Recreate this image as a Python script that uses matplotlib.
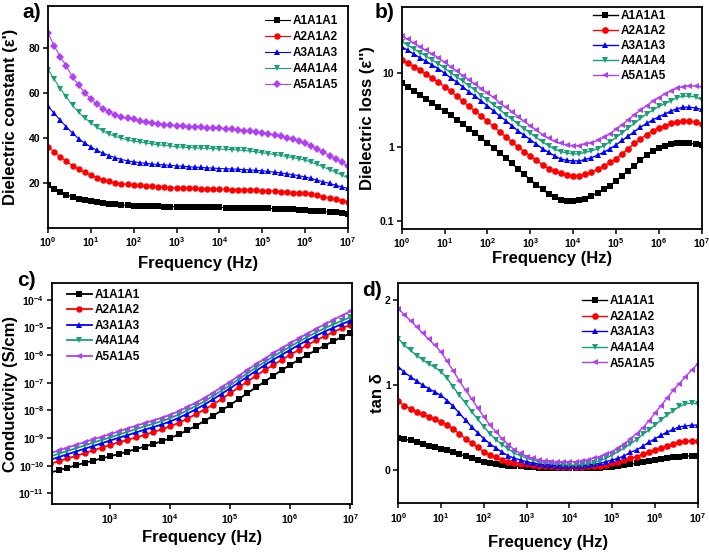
import matplotlib
matplotlib.use("Agg")
import matplotlib.pyplot as plt
import numpy as np
from matplotlib.ticker import FuncFormatter, FixedLocator, NullLocator

plt.rcParams['font.family'] = ['Liberation Sans', 'DejaVu Sans']
plt.rcParams['font.weight'] = 'bold'
plt.rcParams['axes.labelweight'] = 'bold'
plt.rcParams['mathtext.fontset'] = 'custom'
plt.rcParams['mathtext.bf'] = 'Liberation Sans:bold'
plt.rcParams['mathtext.rm'] = 'Liberation Sans:bold'

# measurement grid: 7 points per decade, 1 Hz .. 10 MHz
mant = [1.0, 1.39, 1.93, 2.68, 3.73, 5.18, 7.2]
freq = [m * 10 ** d for d in range(7) for m in mant] + [1e7]
freq_c = freq[14:]  # conductivity plotted from 100 Hz

labels = ["A1A1A1", "A2A1A2", "A3A1A3", "A4A1A4", "A5A1A5"]
colors = ["#000000", "#FF0000", "#0000FF", "#17A077", "#B040F0"]

# a) dielectric constant
eps1_A1 = [19.3, 17.7, 16.2, 15.0, 14.0, 13.2, 12.7, 12.3,
           11.8, 11.4, 11.0, 10.7, 10.5, 10.3, 10.1,
           10.0, 9.95, 9.9, 9.85, 9.8, 9.75, 9.7,
           9.65, 9.6, 9.55, 9.5, 9.5, 9.45, 9.4,
           9.35, 9.3, 9.25, 9.2, 9.15, 9.1, 9.0,
           8.95, 8.9, 8.8, 8.7, 8.6, 8.4, 8.2,
           8.0, 7.8, 7.6, 7.4, 7.2, 6.9, 6.7]
eps1_A2 = [36.2, 34.0, 31.8, 29.8, 27.9, 26.3, 24.9, 23.7,
           22.6, 21.7, 20.9, 20.3, 19.9, 19.6, 19.3,
           19.1, 18.9, 18.7, 18.5, 18.4, 18.2, 18.1,
           18.0, 17.9, 17.8, 17.7, 17.7, 17.6, 17.5,
           17.4, 17.3, 17.2, 17.1, 17.0, 16.9, 16.8,
           16.7, 16.6, 16.4, 16.2, 16.0, 15.8, 15.6,
           15.2, 14.7, 14.2, 13.6, 13.0, 12.4, 11.9]
eps1_A3 = [54.2, 51.0, 48.0, 45.0, 42.3, 39.8, 37.8, 36.2,
           34.6, 33.4, 32.3, 31.4, 30.6, 30.0, 29.6,
           29.2, 28.9, 28.6, 28.4, 28.2, 28.0, 27.8,
           27.6, 27.4, 27.2, 27.1, 26.9, 26.8, 26.6,
           26.5, 26.4, 26.3, 26.1, 26.0, 25.8, 25.6,
           25.3, 25.0, 24.7, 24.3, 23.9, 23.4, 22.9,
           22.2, 21.5, 20.7, 20.0, 19.2, 18.5, 17.8]
eps1_A4 = [70.4, 66.2, 62.0, 58.3, 54.5, 51.5, 49.0, 46.8,
           44.8, 43.2, 41.8, 40.8, 40.0, 39.3, 38.6,
           38.4, 37.9, 37.5, 37.1, 36.8, 36.6, 36.2,
           36.0, 35.9, 35.7, 35.6, 35.5, 35.4, 35.2,
           35.1, 35.0, 34.8, 34.6, 34.3, 34.0, 33.6,
           33.2, 32.8, 32.4, 31.9, 31.4, 30.9, 30.3,
           29.4, 28.4, 27.3, 26.1, 24.9, 23.7, 22.5]
eps1_A5 = [86.5, 81.0, 76.0, 72.0, 67.0, 63.5, 60.0, 57.5,
           55.0, 53.0, 51.5, 50.3, 49.3, 48.8, 48.5,
           47.5, 47.0, 46.6, 46.3, 46.0, 45.8, 45.4,
           45.3, 45.1, 44.9, 44.8, 44.7, 44.6, 44.5,
           44.2, 44.0, 43.7, 43.4, 43.1, 42.8, 42.4,
           42.0, 41.5, 41.0, 40.3, 39.6, 38.8, 37.8,
           36.6, 35.2, 33.8, 32.3, 30.8, 29.3, 27.7]

# b) dielectric loss
eps2_A1 = [7.41, 6.46, 5.75, 5.01, 4.47, 3.98, 3.47, 3.09,
           2.69, 2.34, 2.04, 1.78, 1.55, 1.32, 1.15,
           0.98, 0.83, 0.71, 0.60, 0.51, 0.43, 0.36,
           0.31, 0.27, 0.23, 0.21, 0.195, 0.186, 0.186,
           0.19, 0.20, 0.22, 0.24, 0.27, 0.30, 0.35,
           0.41, 0.48, 0.56, 0.66, 0.78, 0.89, 0.98,
           1.05, 1.10, 1.12, 1.12, 1.12, 1.10, 1.07]
eps2_A2 = [15.1, 13.8, 12.3, 11.0, 9.8, 8.5, 7.6, 6.6,
           5.75, 4.90, 4.17, 3.55, 3.09, 2.63, 2.24,
           1.91, 1.62, 1.38, 1.17, 1.00, 0.87, 0.76,
           0.66, 0.58, 0.51, 0.47, 0.44, 0.42, 0.41,
           0.41, 0.43, 0.46, 0.50, 0.55, 0.62, 0.69,
           0.81, 0.95, 1.12, 1.29, 1.48, 1.66, 1.82,
           1.95, 2.09, 2.19, 2.24, 2.24, 2.19, 2.04]
eps2_A3 = [22.9, 20.4, 18.2, 16.2, 14.5, 12.9, 11.5, 10.0,
           8.7, 7.6, 6.5, 5.6, 4.9, 4.2, 3.63,
           3.09, 2.63, 2.29, 1.95, 1.66, 1.45, 1.26,
           1.10, 0.95, 0.85, 0.76, 0.69, 0.66, 0.65,
           0.65, 0.68, 0.72, 0.78, 0.85, 0.95, 1.07,
           1.23, 1.41, 1.62, 1.86, 2.09, 2.34, 2.57,
           2.82, 3.09, 3.31, 3.47, 3.47, 3.39, 3.24]
eps2_A4 = [26.9, 24.0, 21.4, 19.1, 17.0, 15.1, 13.5, 11.7,
           10.2, 8.9, 7.8, 6.8, 5.9, 5.0, 4.4,
           3.72, 3.24, 2.75, 2.40, 2.04, 1.78, 1.55,
           1.35, 1.17, 1.05, 0.93, 0.87, 0.83, 0.81,
           0.81, 0.85, 0.89, 0.95, 1.05, 1.17, 1.35,
           1.55, 1.82, 2.09, 2.45, 2.82, 3.16, 3.55,
           3.89, 4.27, 4.68, 4.90, 4.90, 4.79, 4.37]
eps2_A5 = [32.4, 28.8, 25.7, 22.9, 20.4, 18.2, 16.2, 14.1,
           12.3, 10.7, 9.3, 8.1, 7.1, 6.2, 5.4,
           4.7, 4.0, 3.47, 3.02, 2.57, 2.24, 1.95,
           1.70, 1.48, 1.32, 1.20, 1.12, 1.07, 1.05,
           1.05, 1.10, 1.15, 1.23, 1.35, 1.51, 1.74,
           2.00, 2.34, 2.75, 3.16, 3.63, 4.17, 4.68,
           5.25, 5.75, 6.31, 6.61, 6.76, 6.76, 6.61]

# c) conductivity, log10(S/cm), from 100 Hz
logsig_A1 = [-10.25, -10.17, -10.08, -9.99, -9.90, -9.82, -9.74, -9.66,
             -9.58, -9.49, -9.40, -9.31, -9.22, -9.12, -9.00,
             -8.87, -8.72, -8.56, -8.38, -8.20, -8.00, -7.80,
             -7.59, -7.38, -7.17, -6.96, -6.75, -6.55, -6.35,
             -6.17, -5.99, -5.82, -5.66, -5.50, -5.35, -5.21]
logsig_A2 = [-9.93, -9.84, -9.74, -9.65, -9.55, -9.45, -9.35, -9.25,
             -9.16, -9.07, -8.98, -8.89, -8.79, -8.69, -8.58,
             -8.45, -8.30, -8.14, -7.97, -7.79, -7.59, -7.38,
             -7.17, -6.96, -6.75, -6.55, -6.36, -6.17, -5.99,
             -5.81, -5.63, -5.47, -5.32, -5.17, -5.03, -4.90]
logsig_A3 = [-9.79, -9.69, -9.59, -9.49, -9.39, -9.29, -9.19, -9.09,
             -8.99, -8.90, -8.80, -8.70, -8.61, -8.51, -8.40,
             -8.27, -8.12, -7.96, -7.79, -7.60, -7.40, -7.20,
             -6.99, -6.78, -6.57, -6.37, -6.17, -5.99, -5.81,
             -5.63, -5.46, -5.30, -5.15, -5.01, -4.88, -4.75]
logsig_A4 = [-9.67, -9.57, -9.47, -9.37, -9.27, -9.17, -9.07, -8.98,
             -8.88, -8.78, -8.68, -8.58, -8.49, -8.39, -8.28,
             -8.15, -8.00, -7.84, -7.67, -7.48, -7.28, -7.08,
             -6.87, -6.66, -6.45, -6.25, -6.05, -5.87, -5.69,
             -5.51, -5.34, -5.18, -5.03, -4.89, -4.76, -4.63]
logsig_A5 = [-9.55, -9.45, -9.35, -9.25, -9.15, -9.05, -8.96, -8.86,
             -8.76, -8.66, -8.56, -8.46, -8.37, -8.27, -8.16,
             -8.03, -7.88, -7.72, -7.55, -7.36, -7.16, -6.96,
             -6.75, -6.54, -6.33, -6.13, -5.93, -5.75, -5.57,
             -5.39, -5.22, -5.05, -4.89, -4.73, -4.57, -4.42]

# d) tan delta
tan_A1 = [0.38, 0.365, 0.35, 0.33, 0.31, 0.29, 0.27, 0.255,
          0.235, 0.21, 0.19, 0.165, 0.14, 0.12, 0.10,
          0.085, 0.075, 0.065, 0.055, 0.05, 0.045, 0.04,
          0.035, 0.03, 0.03, 0.025, 0.025, 0.02, 0.02,
          0.02, 0.02, 0.025, 0.025, 0.03, 0.035, 0.04,
          0.05, 0.06, 0.07, 0.08, 0.095, 0.105, 0.12,
          0.13, 0.14, 0.15, 0.16, 0.165, 0.17, 0.17]
tan_A2 = [0.81, 0.76, 0.72, 0.69, 0.66, 0.63, 0.60, 0.57,
          0.53, 0.48, 0.43, 0.37, 0.32, 0.27, 0.215,
          0.18, 0.15, 0.12, 0.10, 0.085, 0.075, 0.067,
          0.06, 0.055, 0.05, 0.045, 0.04, 0.04, 0.04,
          0.04, 0.04, 0.045, 0.05, 0.055, 0.065, 0.08,
          0.095, 0.115, 0.14, 0.16, 0.185, 0.21, 0.235,
          0.26, 0.29, 0.31, 0.33, 0.34, 0.345, 0.345]
tan_A3 = [1.22, 1.15, 1.10, 1.05, 1.00, 0.96, 0.92, 0.88,
          0.82, 0.75, 0.67, 0.59, 0.51, 0.44, 0.37,
          0.31, 0.26, 0.21, 0.17, 0.14, 0.12, 0.10,
          0.085, 0.075, 0.065, 0.06, 0.055, 0.05, 0.05,
          0.05, 0.055, 0.06, 0.07, 0.08, 0.10, 0.12,
          0.14, 0.17, 0.21, 0.24, 0.28, 0.33, 0.37,
          0.41, 0.45, 0.48, 0.51, 0.52, 0.53, 0.53]
tan_A4 = [1.55, 1.47, 1.41, 1.35, 1.30, 1.25, 1.21, 1.16,
          1.08, 0.98, 0.88, 0.79, 0.69, 0.60, 0.51,
          0.43, 0.36, 0.30, 0.25, 0.20, 0.17, 0.14,
          0.12, 0.10, 0.09, 0.08, 0.07, 0.065, 0.06,
          0.06, 0.065, 0.075, 0.09, 0.11, 0.14, 0.18,
          0.22, 0.26, 0.31, 0.36, 0.42, 0.47, 0.53,
          0.59, 0.65, 0.70, 0.75, 0.78, 0.79, 0.78]
tan_A5 = [1.90, 1.83, 1.76, 1.69, 1.61, 1.54, 1.47, 1.39,
          1.28, 1.17, 1.05, 0.94, 0.84, 0.73, 0.63,
          0.53, 0.45, 0.37, 0.30, 0.24, 0.20, 0.16,
          0.14, 0.12, 0.11, 0.10, 0.10, 0.10, 0.10,
          0.10, 0.11, 0.12, 0.14, 0.16, 0.19, 0.215,
          0.26, 0.31, 0.37, 0.43, 0.50, 0.58, 0.67,
          0.76, 0.85, 0.94, 1.02, 1.10, 1.18, 1.25]

W, H = 709, 553
fig = plt.figure(figsize=(W / 100, H / 100), dpi=100)


def box(l, t, r, b):
    return [l / W, 1 - b / H, (r - l) / W, (b - t) / H]


def pow10(v, pos):
    return r'$\mathbf{10^{%d}}$' % int(round(np.log10(v)))


def style(ax):
    for s in ax.spines.values():
        s.set_linewidth(1.3)
    ax.tick_params(direction='out', length=3.5, width=1.1, labelsize=7.5,
                   top=False, right=False, pad=2)
    ax.tick_params(which='minor', length=0)


def add_legend(ax, x, y, spacing):
    ax.legend(loc='upper left', bbox_to_anchor=(x, y), frameon=False,
              handlelength=2.1, handletextpad=0.25,
              labelspacing=spacing, borderpad=0, borderaxespad=0,
              prop={'weight': 'bold', 'size': 8.5})


def labels_at(ax, xlab, ylab, xy, yx):
    ax.set_xlabel(xlab, fontsize=12)
    ax.set_ylabel(ylab, fontsize=12)
    ax.xaxis.set_label_coords(0.5, xy)
    ax.yaxis.set_label_coords(yx, 0.5)


xt7 = [10.0 ** k for k in range(8)]

# ---- a)
axa = fig.add_axes(box(48, 6, 348, 228))
mk_a = ['s', 'o', '^', 'v', 'D']
for lab, col, m, y in zip(labels, colors, mk_a,
                          [eps1_A1, eps1_A2, eps1_A3, eps1_A4, eps1_A5]):
    axa.plot(freq, y, color=col, marker=m, ms=4.6 if m != 'D' else 4.4,
             lw=0.8, label=lab, markeredgewidth=0)
axa.set_xscale('log')
axa.set_xlim(1, 1e7)
axa.set_ylim(0.3, 98.5)
axa.set_yticks([20, 40, 60, 80])
axa.xaxis.set_major_locator(FixedLocator(xt7))
axa.xaxis.set_minor_locator(NullLocator())
axa.xaxis.set_major_formatter(FuncFormatter(pow10))
labels_at(axa, 'Frequency (Hz)', "Dielectric constant (\u03b5')", -0.125, -0.10)
style(axa)
add_legend(axa, 0.723, 0.96, 0.35)

# ---- b)
axb = fig.add_axes(box(401.7, 7, 701.7, 228.5))
mk = ['s', 'o', '^', 'v', '<']
for lab, col, m, y in zip(labels, colors, mk,
                          [eps2_A1, eps2_A2, eps2_A3, eps2_A4, eps2_A5]):
    axb.plot(freq, y, color=col, marker=m, ms=4.8, lw=1.0,
             label=lab, markeredgewidth=0)
axb.set_xscale('log')
axb.set_yscale('log')
axb.set_xlim(1, 1e7)
axb.set_ylim(0.079, 79)
axb.yaxis.set_major_locator(FixedLocator([0.1, 1, 10]))
axb.yaxis.set_minor_locator(NullLocator())
axb.yaxis.set_major_formatter(FuncFormatter(lambda v, p: '%g' % v))
axb.xaxis.set_major_locator(FixedLocator(xt7))
axb.xaxis.set_minor_locator(NullLocator())
axb.xaxis.set_major_formatter(FuncFormatter(pow10))
labels_at(axb, 'Frequency (Hz)', "Dielectric loss (\u03b5'')", -0.1, -0.09)
style(axb)
add_legend(axb, 0.638, 0.985, 0.25)

# ---- c)
axc = fig.add_axes(box(52, 283.3, 352, 504.3))
for lab, col, m, y in zip(labels, colors, mk,
                          [logsig_A1, logsig_A2, logsig_A3, logsig_A4, logsig_A5]):
    axc.plot(freq_c, 10 ** np.array(y), color=col, marker=m, ms=4.6,
             lw=1.3, label=lab, markeredgewidth=0)
axc.set_xscale('log')
axc.set_yscale('log')
axc.set_xlim(10 ** 2.03, 10 ** 7.03)
axc.set_ylim(10 ** -11.4, 10 ** -3.4)
axc.yaxis.set_major_locator(FixedLocator([10.0 ** k for k in range(-11, -3)]))
axc.yaxis.set_minor_locator(NullLocator())
axc.yaxis.set_major_formatter(FuncFormatter(pow10))
axc.xaxis.set_major_locator(FixedLocator([10.0 ** k for k in range(3, 8)]))
axc.xaxis.set_minor_locator(NullLocator())
axc.xaxis.set_major_formatter(FuncFormatter(pow10))
labels_at(axc, 'Frequency (Hz)', 'Conductivity (S/cm)', -0.115, -0.113)
style(axc)
add_legend(axc, 0.05, 0.975, 0.3)

# ---- d)
axd = fig.add_axes(box(398.3, 283.3, 697.7, 503.3))
for lab, col, m, y in zip(labels, colors, mk,
                          [tan_A1, tan_A2, tan_A3, tan_A4, tan_A5]):
    axd.plot(freq, y, color=col, marker=m, ms=4.8, lw=1.0,
             label=lab, markeredgewidth=0)
axd.set_xscale('log')
axd.set_xlim(1, 1e7)
axd.set_ylim(-0.39, 2.2)
axd.set_yticks([0, 1, 2])
axd.xaxis.set_major_locator(FixedLocator(xt7))
axd.xaxis.set_minor_locator(NullLocator())
axd.xaxis.set_major_formatter(FuncFormatter(pow10))
labels_at(axd, 'Frequency (Hz)', 'tan \u03b4', -0.145, -0.045)
style(axd)
add_legend(axd, 0.614, 0.945, 0.3)

fig.text(22 / W, 1 - 12 / H, 'a)', fontsize=15, weight='bold', va='center')
fig.text(375 / W, 1 - 12 / H, 'b)', fontsize=15, weight='bold', va='center')
fig.text(17 / W, 1 - 280 / H, 'c)', fontsize=15, weight='bold', va='center')
fig.text(362 / W, 1 - 290 / H, 'd)', fontsize=15, weight='bold', va='center')

fig.savefig('out.png', dpi=100)
